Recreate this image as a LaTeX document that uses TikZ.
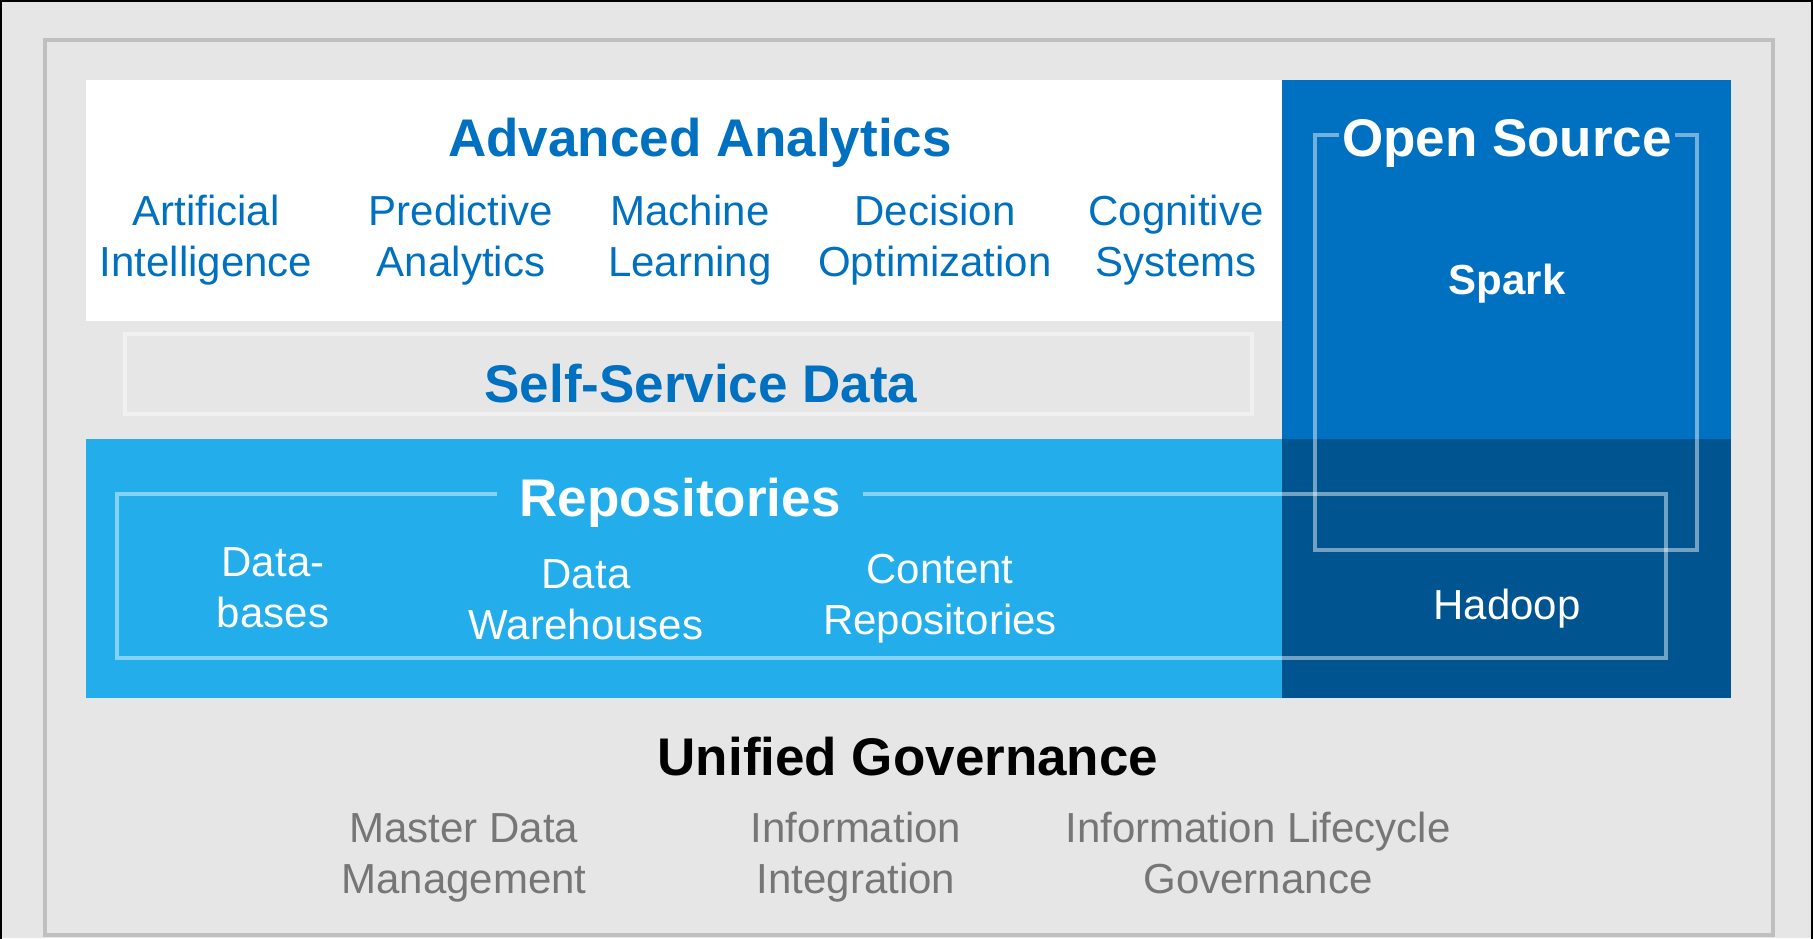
\documentclass[tikz,border=0pt]{standalone}
\usepackage{fontspec}
\setmainfont{Liberation Sans}
\usetikzlibrary{positioning}
\definecolor{panelgray}{HTML}{E6E6E6}
\definecolor{framegray}{HTML}{BFBFBF}
\definecolor{ibmblue}{HTML}{0070C0}
\definecolor{skyblue}{HTML}{23AEEB}
\definecolor{deepblue}{HTML}{00548F}
\definecolor{govgray}{HTML}{767676}

\begin{document}
\begin{tikzpicture}[x=0.5pt,y=-0.5pt,
    head/.style={inner sep=0pt,font=\fontsize{26.5}{30}\selectfont\bfseries},
    item/.style={inner sep=0pt,align=center,font=\fontsize{21}{25.5}\selectfont},
    glass/.style={draw=white,draw opacity=.45,line width=1.75pt}]
		\useasboundingbox (0,0) rectangle (1813,938);
		\fill[panelgray] (0,0) rectangle (1813,938);
		\draw[line width=2.4pt] (0,0) rectangle (1813,950);
		\draw[framegray,line width=2pt] (45,40) rectangle (1773,935);

		% coloured blocks
		\fill[white] (85.5,80) rectangle (1282,321);
		\fill[ibmblue] (1282,80) rectangle (1731,439);
		\fill[skyblue] (85.5,439) rectangle (1282,698);
		\fill[deepblue] (1282,439) rectangle (1731,698);

		% frames
		\draw[white!40!panelgray,line width=2pt] (125,334) rectangle (1252,414);
		\draw[glass] (117,494) rectangle (1666,658);
		\draw[glass] (1315,135) rectangle (1697,550);

		% analytics
		\node[head,text=ibmblue] (adv) at (700,143) {Advanced Analytics};
		\node[item,text=ibmblue] (ai) at (206,240) {Artificial\\Intelligence};
		\node[item,text=ibmblue] (pred) at (461,240) {Predictive\\Analytics};
		\node[item,text=ibmblue] (ml) at (690,240) {Machine\\Learning};
		\node[item,text=ibmblue] (dec) at (935,240) {Decision\\Optimization};
		\node[item,text=ibmblue] (cog) at (1176,240) {Cognitive\\Systems};

		\node[head,text=ibmblue] (self) at (701,384) {Self-Service Data};

		% open source
		\node[head,text=white,fill=ibmblue,inner xsep=1.5pt] (open) at (1507,143) {Open Source};
		\node[item,text=white,font=\fontsize{21}{25.5}\selectfont\bfseries] (spark) at (1507,284) {Spark};
		\node[item,text=white] (hadoop) at (1507,609) {Hadoop};

		% repositories
		\node[head,text=white,fill=skyblue,inner xsep=11pt] (repo) at (680,503) {Repositories};
		\node[item,text=white] (db) at (273,588) {Data-\\bases};
		\node[item,text=white] (dwh) at (586,600) {Data\\Warehouses};
		\node[item,text=white] (cont) at (940,599) {Content\\Repositories};

		% governance
		\node[head] (gov) at (908,757) {Unified Governance};
		\node[item,text=govgray] (mdm) at (464,858) {Master Data\\Management};
		\node[item,text=govgray] (integ) at (856,857) {Information\\Integration};
		\node[item,text=govgray] (ilg) at (1258,853) {Information Lifecycle\\Governance};
	\end{tikzpicture}
\end{document}
